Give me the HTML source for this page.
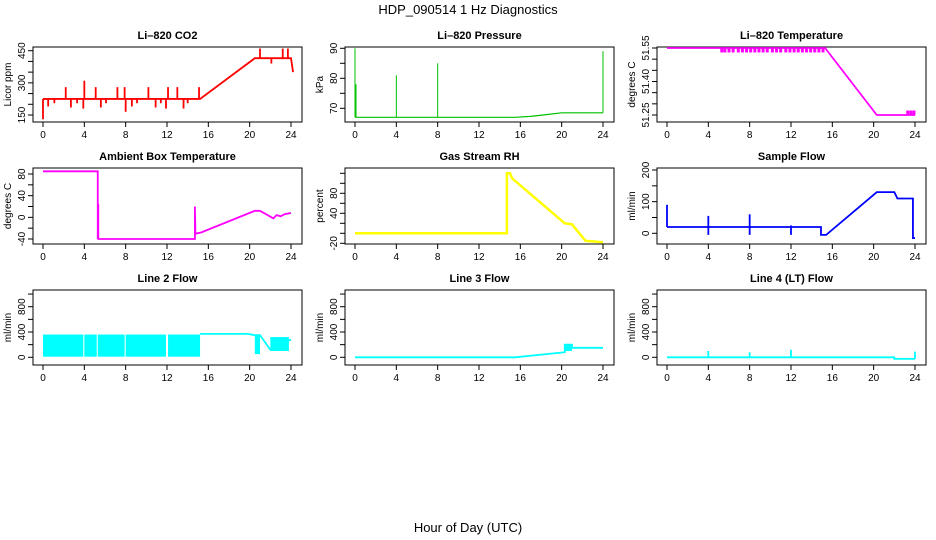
<!DOCTYPE html>
<html><head><meta charset="utf-8">
<style>
body{margin:0;background:#fff;}
svg{display:block;font-family:"Liberation Sans",sans-serif;}
</style></head>
<body>
<svg id="chart" width="936" height="540" viewBox="0 0 936 540" xmlns="http://www.w3.org/2000/svg">
<text x="468" y="14" text-anchor="middle" font-size="13">HDP_090514  1 Hz Diagnostics</text>
<text x="468" y="532" text-anchor="middle" font-size="13">Hour of Day (UTC)</text>
</svg>
<script>
// ---- data ----
const xTicks = [0,4,8,12,16,20,24];
const co2Hours  = [0,15.2,20.5,21,24,24.2];
const co2Values = [225,225,415,415,415,350];
const co2SpikeHours  = [0,0.5,1.1,2.2,2.7,3.3,3.9,4,5.1,5.6,6.1,7.2,7.9,8,8.6,9.1,10.2,10.9,11.4,11.9,12.1,13,13.6,14,15.1,21,22.1,23.2,23.7];
const co2SpikeValues = [130,190,205,280,185,205,180,310,280,185,205,280,280,165,190,205,280,185,205,180,280,280,180,205,280,460,390,460,460];
const presHours  = [0,15.5,17,18.5,20,24];
const presValues = [67,67,67.3,67.9,68.5,68.5];
const presSpikeHours  = [0,0.1,4,8,24];
const presSpikeValues = [90,78,81,85,89];
const tempHours  = [0,15.3,20.3,24];
const tempValues = [51.55,51.55,51.25,51.25];
const tempSpikeHours  = [5.3,5.6,6,6.4,6.9,7.3,7.7,8.1,8.5,8.9,9.3,9.7,10.2,10.6,11,11.5,11.9,12.3,12.7,13.1,13.5,13.9,14.3,14.7,15.1,23.3,23.6,23.9];
const tempSpikeValues = [51.53,51.53,51.53,51.53,51.53,51.53,51.53,51.53,51.53,51.53,51.53,51.53,51.53,51.53,51.53,51.53,51.53,51.53,51.53,51.53,51.53,51.53,51.53,51.53,51.53,51.27,51.27,51.27];
const ambHours  = [0,5.3,5.3,5.35,5.35,14.7,14.7,14.75,14.8,15.3,20.5,21,22.3,22.6,23,23.4,24];
const ambValues = [85,85,-40,25,-40,-40,20,-28,-30,-28,12,12,-2,4,2,6,8];
const rhHours  = [0,14.7,14.7,15,15.2,20.3,21,22.3,24];
const rhValues = [0,0,120,120,110,20,18,-15,-18];
const sfHours  = [0,14.9,14.9,15.4,20.3,22,22.3,23.8,23.8,24];
const sfValues = [20,20,-5,-5,130,130,110,110,-15,-15];
const sfSpikeHours  = [0,4,4,8,8,12,12];
const sfSpikeValues = [90,55,-5,60,-5,25,-5];
const l2BandStart = [0,4,5.3,8,12.1,20.5,22];
const l2BandEnd   = [3.9,5.2,7.9,11.9,15.2,21,23.8];
const l2BandLow   = [10,10,10,10,10,50,100];
const l2BandHigh  = [360,360,360,360,360,350,320];
const l2Hours  = [15.2,19.8,20.5,21,22,24];
const l2Values = [370,370,350,350,120,280];
const l3Hours  = [0,15.5,20.3,20.3,21,21,24];
const l3Values = [0,0,80,200,200,150,150];
const l3BandStart = [20.3];
const l3BandEnd   = [21];
const l3BandLow   = [100];
const l3BandHigh  = [200];
const l4Hours  = [0,22,22,24];
const l4Values = [0,0,-25,-25];
const l4SpikeHours  = [4,8,12,24];
const l4SpikeValues = [100,80,120,90];

// ---- layout ----
const NS = "http://www.w3.org/2000/svg";
const svg = document.getElementById('chart');
const cols = [33,345,657], rows = [[47,122],[168,244],[290,365]];
function mk(tag, attrs, parent){
  const e = document.createElementNS(NS, tag);
  for (const k in attrs) e.setAttribute(k, attrs[k]);
  (parent||svg).appendChild(e); return e;
}
function panel(cfg){
  const L = cols[cfg.c], T = rows[cfg.r][0], B = rows[cfg.r][1], R = L + 269;
  const g = mk('g', {});
  
  
  const x = h => L + 10 + h * (R - L - 21) / 24;
  const y = v => cfg.py0 + (v - cfg.v0) * (cfg.py1 - cfg.py0) / (cfg.v1 - cfg.v0);
  const t = mk('text', {x:(L+R)/2, y:T-8, 'text-anchor':'middle','font-size':11,'font-weight':'bold'}, g);
  t.textContent = cfg.title;
  
  
  const box = mk('rect', {x:L, y:T, width:R-L, height:B-T, fill:'none', stroke:'#000'}, g);
  
  
  xTicks.forEach(h=>{
    mk('line',{x1:x(h),x2:x(h),y1:B,y2:B+5,stroke:'#000'},g);
    const tl = mk('text',{x:x(h),y:B+16,'text-anchor':'middle','font-size':10},g);
    tl.textContent = h;
    
    
  });
  cfg.yTicks.forEach(v=>{
    mk('line',{x1:L,x2:L-5,y1:y(v),y2:y(v),stroke:'#000'},g);
  });
  cfg.yLabels.forEach(v=>{
    const yl = mk('text',{x:L-8,y:y(v),'text-anchor':'middle','font-size':10,transform:`rotate(-90 ${L-8} ${y(v)})`},g);
    yl.textContent = cfg.fmt ? cfg.fmt(v) : v;
    
    
  });
  const yt = mk('text',{x:L-22,y:(T+B)/2,'text-anchor':'middle','font-size':10,transform:`rotate(-90 ${L-22} ${(T+B)/2})`},g);
  yt.textContent = cfg.ylab;
  
  
  if (cfg.bands){
    const [bs,be,bl,bh] = cfg.bands;
    bs.forEach((s,i)=>{
      const r = mk('rect',{x:x(s),y:y(bh[i]),width:x(be[i])-x(s),height:y(bl[i])-y(bh[i]),fill:cfg.color},g);
      
      
    });
  }
  const pts = cfg.hx.map((h,i)=>x(h)+','+y(cfg.vy[i])).join(' ');
  const pl = mk('polyline',{points:pts,fill:'none',stroke:cfg.color,'stroke-width':cfg.sw||1.8},g);
  
  
  if (cfg.spikes){
    const [sh,sv] = cfg.spikes;
    sh.forEach((h,i)=>{
      const ln = mk('line',{x1:x(h),x2:x(h),y1:y(cfg.base(h)),y2:y(sv[i]),stroke:cfg.color,'stroke-width':cfg.ssw||1.8},g);
      
      
    });
  }
}
function interp(hs,vs){return h=>{for(let i=1;i<hs.length;i++){if(h<=hs[i]){const a=hs[i-1],b=hs[i];return b===a?vs[i]:vs[i-1]+(vs[i]-vs[i-1])*(h-a)/(b-a);}}return vs[vs.length-1];};}

panel({name:'co2',title:'Li\u2013820 CO2',c:0,r:0,ylab:'Licor ppm',color:'#ff0000',v0:150,v1:450,py0:115,py1:50.7,
  yTicks:[150,200,250,300,350,400,450],yLabels:[150,300,450],hx:co2Hours,vy:co2Values,spikes:[co2SpikeHours,co2SpikeValues],base:interp(co2Hours,co2Values)});
panel({name:'pressure',title:'Li\u2013820 Pressure',c:1,r:0,ylab:'kPa',color:'#00c000',v0:70,v1:90,py0:108.3,py1:48.3,sw:1.2,ssw:1,
  yTicks:[70,75,80,85,90],yLabels:[70,80,90],hx:presHours,vy:presValues,spikes:[presSpikeHours,presSpikeValues],base:interp(presHours,presValues)});
panel({name:'li820-temperature',title:'Li\u2013820 Temperature',c:2,r:0,ylab:'degrees C',color:'#ff00ff',v0:51.25,v1:51.55,py0:115,py1:48,
  yTicks:[51.25,51.30,51.35,51.40,51.45,51.50,51.55],yLabels:[51.25,51.40,51.55],fmt:v=>v.toFixed(2),hx:tempHours,vy:tempValues,spikes:[tempSpikeHours,tempSpikeValues],base:interp(tempHours,tempValues),ssw:3});
panel({name:'ambient-temperature',title:'Ambient Box Temperature',c:0,r:1,ylab:'degrees C',color:'#ff00ff',v0:-40,v1:80,py0:239,py1:174,
  yTicks:[-40,-20,0,20,40,60,80],yLabels:[-40,0,40,80],hx:ambHours,vy:ambValues});
panel({name:'gas-stream-rh',title:'Gas Stream RH',c:1,r:1,ylab:'percent',color:'#ffff00',v0:-20,v1:120,py0:243.3,py1:173.3,sw:2.5,
  yTicks:[-20,0,20,40,60,80,100,120],yLabels:[-20,40,80],hx:rhHours,vy:rhValues});
panel({name:'sample-flow',title:'Sample Flow',c:2,r:1,ylab:'ml/min',color:'#0000ff',v0:0,v1:200,py0:233.3,py1:170,
  yTicks:[0,50,100,150,200],yLabels:[0,100,200],hx:sfHours,vy:sfValues,spikes:[sfSpikeHours,sfSpikeValues],base:interp(sfHours,sfValues)});
panel({name:'line2-flow',title:'Line 2 Flow',c:0,r:2,ylab:'ml/min',color:'#00ffff',v0:0,v1:800,py0:357.3,py1:306.7,
  yTicks:[0,200,400,600,800,1000],yLabels:[0,400,800],hx:l2Hours,vy:l2Values,bands:[l2BandStart,l2BandEnd,l2BandLow,l2BandHigh]});
panel({name:'line3-flow',title:'Line 3 Flow',c:1,r:2,ylab:'ml/min',color:'#00ffff',v0:0,v1:800,py0:357.3,py1:306.7,
  yTicks:[0,200,400,600,800,1000],yLabels:[0,400,800],hx:l3Hours,vy:l3Values,bands:[l3BandStart,l3BandEnd,l3BandLow,l3BandHigh]});
panel({name:'line4-flow',title:'Line 4 (LT) Flow',c:2,r:2,ylab:'ml/min',color:'#00ffff',v0:0,v1:800,py0:357.3,py1:306.7,
  yTicks:[0,200,400,600,800,1000],yLabels:[0,400,800],hx:l4Hours,vy:l4Values,spikes:[l4SpikeHours,l4SpikeValues],base:interp(l4Hours,l4Values)});
</script>
</body></html>
